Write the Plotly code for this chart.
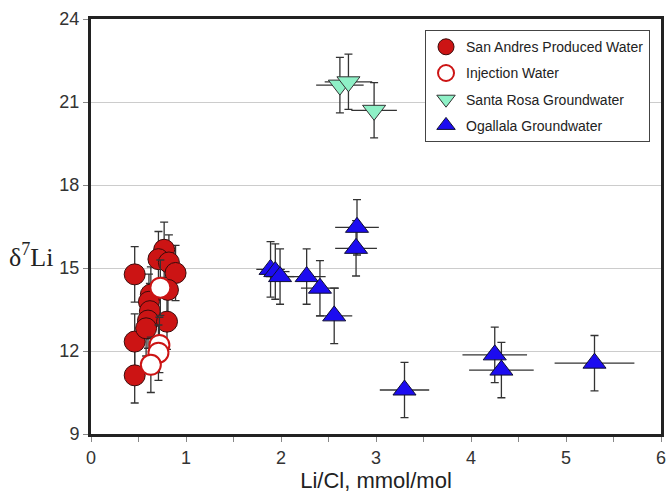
import plotly.graph_objects as go

# --- data ---
san_andres_x = [0.46, 0.46, 0.46, 0.77, 0.71, 0.82, 0.89, 0.81, 0.63, 0.61, 0.62, 0.60, 0.80, 0.58]
san_andres_y = [14.77, 12.34, 11.12, 15.66, 15.32, 15.20, 14.82, 14.21, 14.04, 13.78, 13.44, 13.10, 13.06, 12.82]
san_andres_yerr = [1.0] * 14

injection_x = [0.73, 0.72, 0.71, 0.63]
injection_y = [14.29, 12.22, 11.94, 11.50]
injection_yerr = [1.0, 1.0, 1.0, 1.0]

santa_rosa_x = [2.62, 2.71, 2.98]
santa_rosa_y = [21.61, 21.73, 20.70]
santa_rosa_xerr = [0.25, 0.25, 0.24]
santa_rosa_yerr = [1.0, 1.0, 1.0]

ogallala_x = [1.89, 1.94, 1.99, 2.27, 2.41, 2.56, 2.80, 2.79, 3.30, 4.25, 4.32, 5.30]
ogallala_y = [14.95, 14.87, 14.69, 14.69, 14.27, 13.27, 16.47, 15.71, 10.59, 11.86, 11.31, 11.56]
ogallala_xerr = [0.15, 0.15, 0.15, 0.20, 0.20, 0.19, 0.23, 0.22, 0.26, 0.34, 0.34, 0.42]
ogallala_yerr = [1.0] * 12

x_ticks = [0, 1, 2, 3, 4, 5, 6]
y_ticks = [9, 12, 15, 18, 21, 24]

ERR_COLOR = "#333333"
FONT = "Liberation Sans, Arial, sans-serif"

def yerr(vals):
    return dict(type="data", array=vals, visible=True, color=ERR_COLOR, thickness=1.3, width=4)

def xerr(vals):
    return dict(type="data", array=vals, visible=True, color=ERR_COLOR, thickness=1.3, width=0)

fig = go.Figure()

fig.add_trace(go.Scatter(
    x=san_andres_x, y=san_andres_y, mode="markers", name="San Andres Produced Water",
    legendgroup="a",
    marker=dict(symbol="circle", size=21, color="#cc1414", line=dict(color="#3a0a0a", width=1)),
    error_y=yerr(san_andres_yerr),
))
fig.add_trace(go.Scatter(
    x=injection_x, y=injection_y, mode="markers", name="Injection Water",
    legendgroup="b",
    marker=dict(symbol="circle", size=20, color="white", line=dict(color="#cc1414", width=2)),
    error_y=yerr(injection_yerr),
))
fig.add_trace(go.Scatter(
    x=santa_rosa_x, y=santa_rosa_y, mode="markers", name="Santa Rosa Groundwater",
    legendgroup="c",
    marker=dict(symbol="triangle-down", size=20, color="#8ef0c6", line=dict(color="#333333", width=1)),
    error_x=xerr(santa_rosa_xerr), error_y=yerr(santa_rosa_yerr),
))
fig.add_trace(go.Scatter(
    x=ogallala_x, y=ogallala_y, mode="markers", name="Ogallala Groundwater",
    legendgroup="d",
    marker=dict(symbol="triangle-up", size=20, color="#1c0cf0", line=dict(color="#111133", width=1)),
    error_x=xerr(ogallala_xerr), error_y=yerr(ogallala_yerr),
))

fig.update_layout(
    width=670, height=494,
    margin=dict(l=91, r=4, t=19, b=60),
    paper_bgcolor="white", plot_bgcolor="white",
    font=dict(family=FONT, size=18, color="#222222"),
    showlegend=True,
    legend=dict(
        x=0.586, y=0.973, xanchor="left", yanchor="top",
        bgcolor="white", bordercolor="#444444", borderwidth=1,
        font=dict(family=FONT, size=14, color="#222222"),
        tracegroupgap=5,
    ),
    xaxis=dict(
        range=[0, 6], tickvals=x_ticks, ticks="outside", ticklen=5, tickcolor="#888888",
        showgrid=False, zeroline=False,
        showline=True, mirror=True, linewidth=3, linecolor="#222222",
        minor=dict(dtick=0.5, ticks="outside", ticklen=5, tickcolor="#888888", showgrid=False),
        title=dict(text="Li/Cl, mmol/mol", font=dict(family=FONT, size=22, color="#222222"), standoff=4),
        tickfont=dict(size=18, color="#333333"),
    ),
    yaxis=dict(
        range=[9, 24], tickvals=y_ticks, ticks="outside", ticklen=5, tickcolor="#888888",
        showgrid=True, gridcolor="#cccccc", gridwidth=1, zeroline=False,
        showline=True, mirror=True, linewidth=3, linecolor="#222222",
        tickfont=dict(size=18, color="#333333"),
    ),
    annotations=[dict(
        text="δ<sup>7</sup>Li", xref="paper", yref="paper", x=-0.106, y=0.43,
        xanchor="center", yanchor="middle", showarrow=False,
        font=dict(family="Liberation Serif, Times New Roman, serif", size=26, color="#222222"),
    )],
)

fig.write_html("out.html")
